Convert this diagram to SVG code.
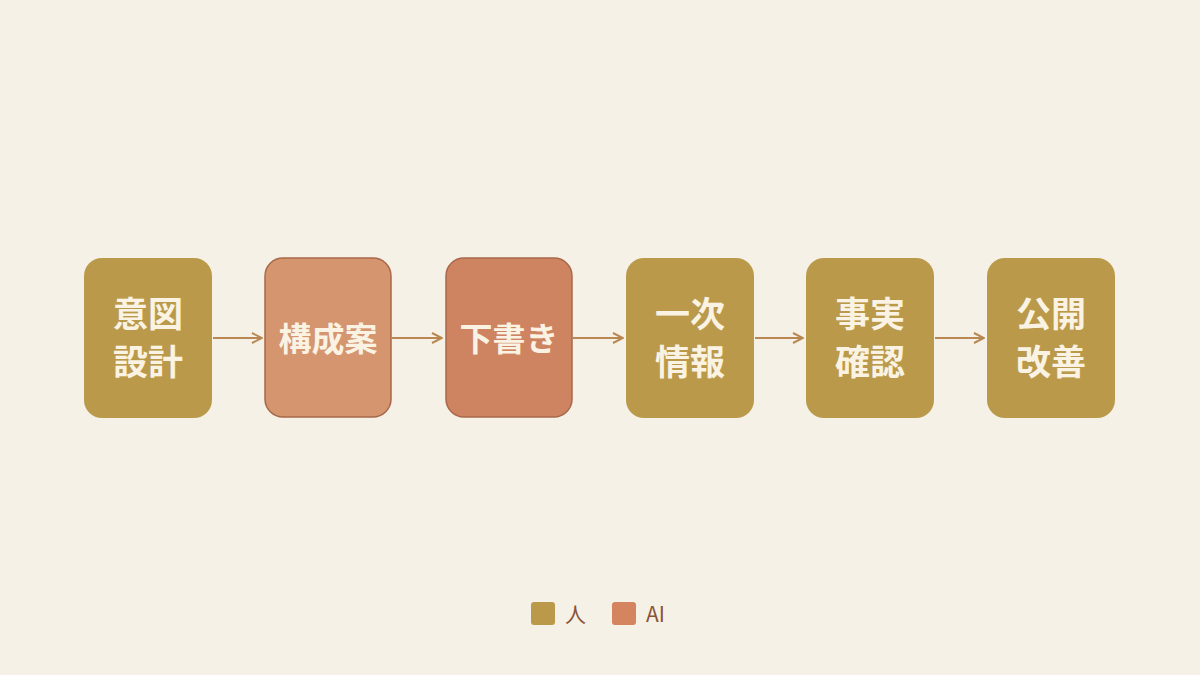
<svg xmlns="http://www.w3.org/2000/svg" width="1200" height="675" viewBox="0 0 1200 675">
<defs>
<style>
.gold{fill:#BA9A4A;}
.ai1{fill:#D4956F;stroke:#A8684A;stroke-width:1.5;}
.ai2{fill:#CF8461;stroke:#A8684A;stroke-width:1.5;}
.lbl{font-family:"Noto Sans CJK JP","Noto Sans",sans-serif;font-weight:700;font-size:35px;fill:#FAF3E3;text-anchor:middle;}
.one{font-size:33px;}
.conn{stroke:#B98752;stroke-width:2;fill:none;}
.leg{font-family:"Noto Sans CJK JP","Noto Sans",sans-serif;font-size:21px;fill:#8A5436;}
</style>
<marker id="ah" viewBox="0 0 12 12" refX="11" refY="6" markerWidth="12" markerHeight="12" markerUnits="userSpaceOnUse" orient="auto">
<path d="M1,1 L11,6 L1,11" fill="none" stroke="#B98752" stroke-width="2"/>
</marker>
</defs>
<rect width="1200" height="675" fill="#F5F1E6"/>
<g id="n1"><rect class="gold" x="84" y="258" width="128" height="160" rx="18"/><text class="lbl" x="148" y="327">意図</text><text class="lbl" x="148" y="375">設計</text></g>
<g id="n2"><rect class="ai1" x="265" y="258" width="126" height="159" rx="18"/><text class="lbl one" x="328" y="351">構成案</text></g>
<g id="n3"><rect class="ai2" x="446" y="258" width="126" height="159" rx="18"/><text class="lbl one" x="509" y="351">下書き</text></g>
<g id="n4"><rect class="gold" x="626" y="258" width="128" height="160" rx="18"/><text class="lbl" x="690" y="327">一次</text><text class="lbl" x="690" y="375">情報</text></g>
<g id="n5"><rect class="gold" x="806" y="258" width="128" height="160" rx="18"/><text class="lbl" x="870" y="327">事実</text><text class="lbl" x="870" y="375">確認</text></g>
<g id="n6"><rect class="gold" x="987" y="258" width="128" height="160" rx="18"/><text class="lbl" x="1051" y="327">公開</text><text class="lbl" x="1051" y="375">改善</text></g>
<g id="connectors">
<line class="conn" x1="213" y1="338" x2="262" y2="338" marker-end="url(#ah)"/>
<line class="conn" x1="392" y1="338" x2="442" y2="338" marker-end="url(#ah)"/>
<line class="conn" x1="573" y1="338" x2="623" y2="338" marker-end="url(#ah)"/>
<line class="conn" x1="755" y1="338" x2="803" y2="338" marker-end="url(#ah)"/>
<line class="conn" x1="935" y1="338" x2="984" y2="338" marker-end="url(#ah)"/>
</g>
<g id="legend">
<rect x="531" y="602" width="24" height="23" rx="3" fill="#BA9A4A"/>
<text class="leg" x="565" y="622">人</text>
<rect x="612" y="602" width="24" height="23" rx="3" fill="#D4845F"/>
<text class="leg" x="646" y="622">AI</text>
</g>
</svg>
